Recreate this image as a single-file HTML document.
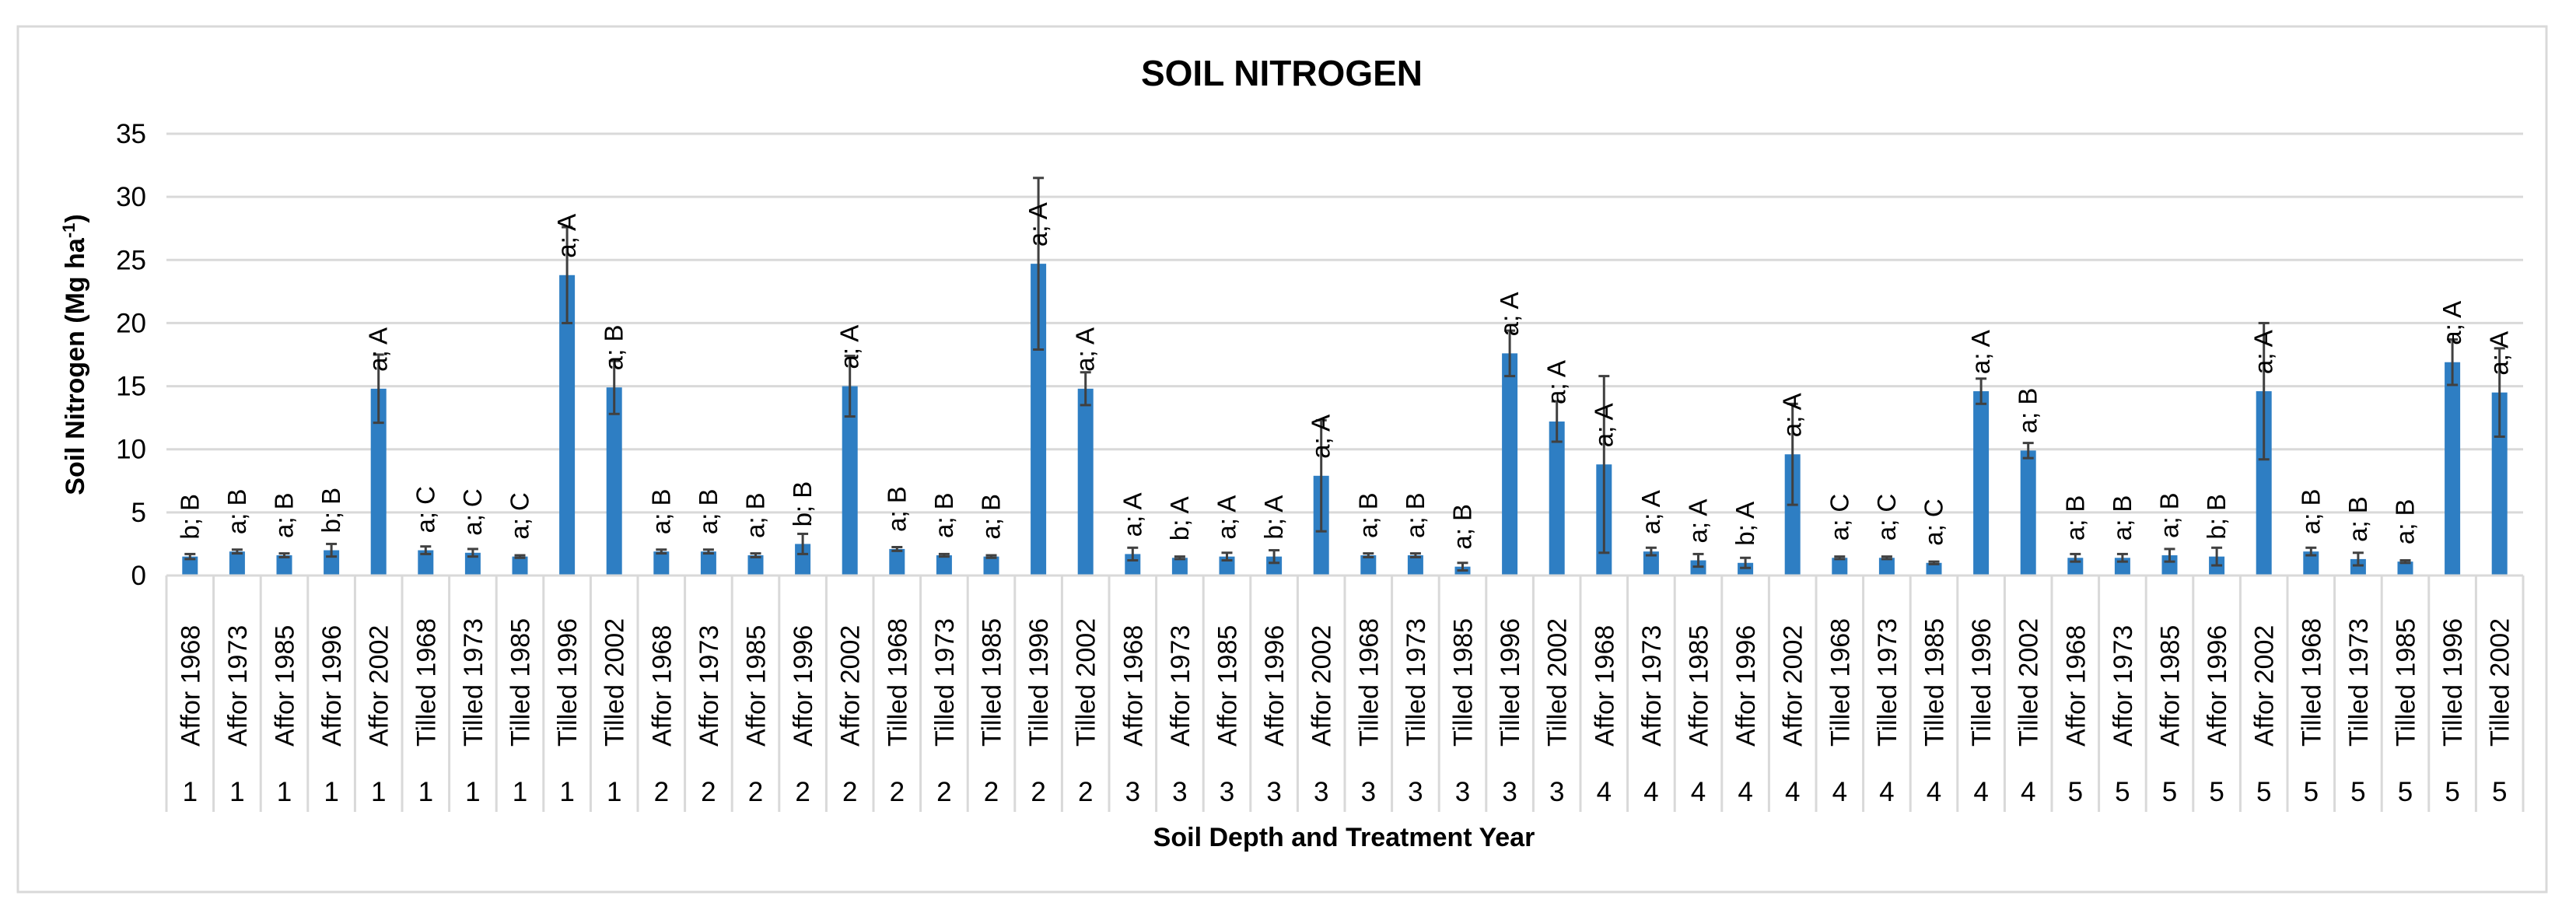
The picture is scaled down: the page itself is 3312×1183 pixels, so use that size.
<!DOCTYPE html>
<html><head><meta charset="utf-8">
<style>
html,body{margin:0;padding:0;background:#fff;}
svg{display:block;font-family:"Liberation Sans",sans-serif;}
</style></head>
<body>
<svg id="chart" width="3312" height="1183" viewBox="0 0 3312 1183" xmlns="http://www.w3.org/2000/svg">
<rect x="23" y="34" width="3251" height="1113" fill="#fff" stroke="#d9d9d9" stroke-width="3"/>
<text x="1648" y="110" text-anchor="middle" font-size="46" font-weight="bold" fill="#000">SOIL NITROGEN</text>
<text transform="translate(108,456) rotate(-90)" text-anchor="middle" font-size="34" font-weight="bold" fill="#000">Soil Nitrogen (Mg ha<tspan baseline-shift="super" font-size="22">-1</tspan>)</text>
<text x="1728" y="1088" text-anchor="middle" font-size="34" font-weight="bold" fill="#000">Soil Depth and Treatment Year</text>
<g id="grid"></g><g id="bars"></g><g id="axes"></g>
</svg>
<script>
const depths = [1,1,1,1,1,1,1,1,1,1,2,2,2,2,2,2,2,2,2,2,3,3,3,3,3,3,3,3,3,3,4,4,4,4,4,4,4,4,4,4,5,5,5,5,5,5,5,5,5,5];
const treatments = ["Affor 1968","Affor 1973","Affor 1985","Affor 1996","Affor 2002","Tilled 1968","Tilled 1973","Tilled 1985","Tilled 1996","Tilled 2002"];
const values = [1.5,1.9,1.6,2.0,14.8,2.0,1.8,1.5,23.8,14.9, 1.9,1.9,1.6,2.5,15.0,2.1,1.6,1.5,24.7,14.8, 1.7,1.4,1.5,1.5,7.9,1.6,1.6,0.7,17.6,12.2, 8.8,1.9,1.2,1.0,9.6,1.4,1.4,1.0,14.6,9.9, 1.4,1.4,1.6,1.5,14.6,1.9,1.3,1.1,16.9,14.5];
const errors = [0.2,0.15,0.15,0.5,2.7,0.3,0.3,0.1,3.8,2.1, 0.15,0.15,0.15,0.8,2.4,0.15,0.1,0.1,6.8,1.3, 0.5,0.1,0.3,0.5,4.4,0.15,0.15,0.3,1.8,1.6, 7.0,0.3,0.5,0.4,4.0,0.1,0.1,0.1,1.0,0.6, 0.3,0.3,0.5,0.7,5.4,0.3,0.5,0.1,1.8,3.5];
const letters = ["b; B","a; B","a; B","b; B","a; A","a; C","a; C","a; C","a; A","a; B", "a; B","a; B","a; B","b; B","a; A","a; B","a; B","a; B","a; A","a; A", "a; A","b; A","a; A","b; A","a; A","a; B","a; B","a; B","a; A","a; A", "a; A","a; A","a; A","b; A","a; A","a; C","a; C","a; C","a; A","a; B", "a; B","a; B","a; B","b; B","a; A","a; B","a; B","a; B","a; A","a; A"];
const yTicks = [0,5,10,15,20,25,30,35];

const NS="http://www.w3.org/2000/svg";
const X0=214, X1=3244, Y0=740, Y35=172;
const n=values.length, bw=(X1-X0)/n;
const yScale=v=>Y0-(v/35)*(Y0-Y35);
const xCenter=i=>X0+bw*(i+0.5);
function mk(tag,parent,attrs){const e=document.createElementNS(NS,tag);for(const k in attrs)e.setAttribute(k,attrs[k]);parent.appendChild(e);return e;}
const grid=document.getElementById('grid'),bars=document.getElementById('bars'),axes=document.getElementById('axes');
yTicks.forEach(t=>{
  const y=yScale(t);
  if(t>0){const l=mk('line',grid,{x1:X0,x2:X1,y1:y,y2:y,stroke:'#d9d9d9','stroke-width':3});
  
  }
  const tx=mk('text',axes,{x:188,y:y+12,'text-anchor':'end','font-size':35,fill:'#000'});
  tx.textContent=t;
  
  
});
const ax=mk('line',axes,{x1:X0,x2:X1,y1:Y0,y2:Y0,stroke:'#d9d9d9','stroke-width':3});


for(let i=0;i<=n;i++){
  const x=X0+bw*i;
  const l=mk('line',axes,{x1:x,x2:x,y1:Y0,y2:1044,stroke:'#d9d9d9','stroke-width':3});
  
  
}
values.forEach((v,i)=>{
  const cx=xCenter(i), top=yScale(v);
  const r=mk('rect',bars,{x:cx-10,y:top,width:20,height:Y0-top,fill:'#2e7ec3'});
  
  
  const e=errors[i], yh=yScale(v+e), yl=yScale(Math.max(0,v-e));
  const g=mk('g',bars,{stroke:'#404040','stroke-width':3});
  
  
  mk('line',g,{x1:cx,x2:cx,y1:yh,y2:yl});
  mk('line',g,{x1:cx-7,x2:cx+7,y1:yh,y2:yh});
  mk('line',g,{x1:cx-7,x2:cx+7,y1:yl,y2:yl});
  const lab=mk('text',bars,{transform:`translate(${cx+11},${top-22}) rotate(-90)`,'font-size':33,fill:'#000'});
  lab.textContent=letters[i];
  
  
  const cl=mk('text',axes,{transform:`translate(${cx+12},960) rotate(-90)`,'font-size':34,fill:'#000'});
  cl.textContent=treatments[i%treatments.length];
  
  
  const dl=mk('text',axes,{x:cx,y:1030,'text-anchor':'middle','font-size':35,fill:'#000'});
  dl.textContent=depths[i];
  
  
});
</script>
</body></html>
